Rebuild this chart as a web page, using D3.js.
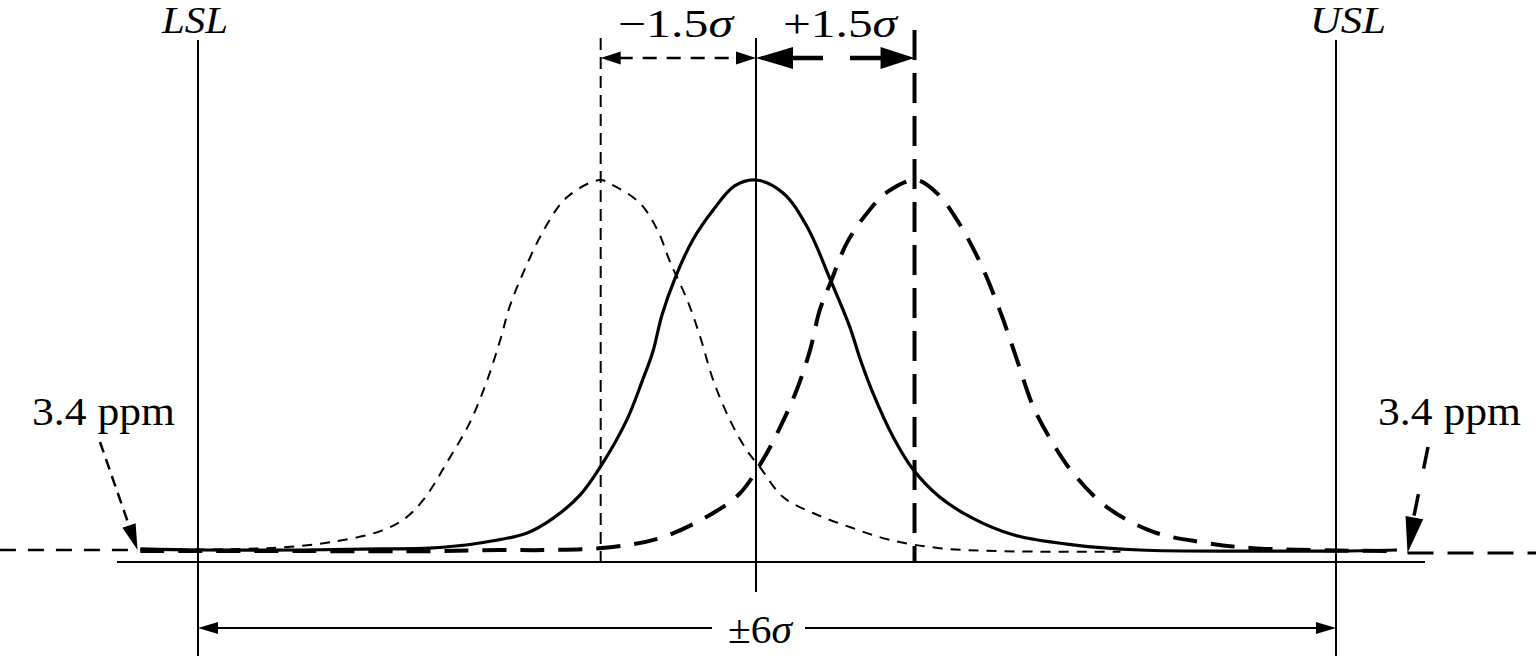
<!DOCTYPE html>
<meta charset="utf-8">
<style>
body { margin: 0; background: #fff; }
svg { display: block; }
text { font-family: "Liberation Serif", "Times New Roman", serif; fill: #000; }
</style>
<svg width="1536" height="656"></svg>
<script src="https://d3js.org/d3.v7.min.js"></script>
<script>

// x in sigma units from the centred process mean, y relative to the peak height
var centredX = [-6.62, -5.98, -4.90, -4.04, -3.51, -2.97, -2.46, -2.18, -1.89, -1.66, -1.39, -1.22, -1.11, -1.01, -0.87, -0.68, -0.46, -0.23, 0,
                0.28, 0.53, 0.77, 0.97, 1.08, 1.21, 1.42, 1.63, 1.90, 2.24, 2.66, 3.28, 3.97, 5.11, 6.0, 6.63];
var centredY = [0.003, 0, 0, 0.003, 0.005, 0.019, 0.046, 0.086, 0.149, 0.230, 0.351, 0.459, 0.535, 0.636, 0.735, 0.838, 0.919, 0.984, 1.0,
                0.965, 0.873, 0.730, 0.603, 0.514, 0.424, 0.305, 0.216, 0.143, 0.086, 0.041, 0.014, 0, -0.003, -0.003, 0];

var shiftedDownX = [-6.62, -5.52, -5.04, -4.55, -4.04, -3.77, -3.56, -3.32, -3.08, -2.89, -2.75, -2.65, -2.50, -2.27, -2.03, -1.68,
                    -1.54, -1.25, -1.06, -0.92, -0.74, -0.60, -0.46, -0.28, -0.10, 0.04, 0.28, 0.59, 0.97, 1.39, 1.90, 2.52, 3.77];
var shiftedDownY = [0, 0.003, 0.008, 0.022, 0.051, 0.086, 0.141, 0.238, 0.343, 0.459, 0.568, 0.657, 0.751, 0.870, 0.954, 1.0,
                    0.986, 0.938, 0.865, 0.776, 0.676, 0.576, 0.459, 0.351, 0.270, 0.224, 0.143, 0.100, 0.062, 0.027, 0.005, -0.003, -0.005];

var shiftedUpX = [-6.62, -4.90, -3.47, -2.75, -2.25, -1.54, -1.00, -0.46, -0.17, 0.07, 0.25, 0.42, 0.56, 0.66, 0.77, 0.94, 1.15, 1.36, 1.65,
                  1.87, 2.08, 2.32, 2.52, 2.70, 2.87, 3.07, 3.28, 3.63, 4.11, 4.59, 5.14, 6.66];
var shiftedUpY = [-0.003, -0.003, -0.003, 0, 0, 0.008, 0.035, 0.100, 0.154, 0.243, 0.332, 0.432, 0.541, 0.649, 0.722, 0.830, 0.911, 0.968, 1.0,
                  0.965, 0.892, 0.776, 0.649, 0.514, 0.386, 0.289, 0.208, 0.116, 0.049, 0.022, 0.005, -0.003];

var leftTailX = [-8.13, -6.65];
var rightTailX = [6.74, 8.07];

var specLimits = [-6, 6];
var specLabels = ["LSL", "USL"];
var shiftMeans = [-1.67, 1.64];
var shiftLabels = ["\u22121.5", "+1.5"];
var ppmLabel = "3.4 ppm";
var spanLabel = "\u00b16";

var svg = d3.select("svg"),
    width = +svg.attr("width"),
    height = +svg.attr("height");

var x = d3.scaleLinear().domain([-6, 0, 6]).range([198, 756, 1336]);
var y = d3.scaleLinear().domain([0, 1]).range([550, 180]);

var baseY = y(0) + 12;

function zip(xs, ys) {
  return xs.map(function(d, i) { return [d, ys[i]]; });
}

var line = d3.line()
    .x(function(d) { return x(d[0]); })
    .y(function(d) { return y(d[1]); })
    .curve(d3.curveCatmullRom.alpha(0.5));

function arrowHead(tip, from, len, half) {
  var dx = tip[0] - from[0], dy = tip[1] - from[1];
  var l = Math.sqrt(dx * dx + dy * dy);
  var ux = dx / l, uy = dy / l;
  var bx = tip[0] - ux * len, by = tip[1] - uy * len;
  svg.append("path")
      .attr("d", "M" + tip[0] + "," + tip[1] +
                 "L" + (bx - uy * half) + "," + (by + ux * half) +
                 "L" + (bx + uy * half) + "," + (by - ux * half) + "Z")
      .attr("fill", "#000");
}

function seg(x1, y1, x2, y2, w, dash) {
  var s = svg.append("line")
      .attr("x1", x1).attr("y1", y1)
      .attr("x2", x2).attr("y2", y2)
      .attr("stroke", "#000")
      .attr("stroke-width", w);
  if (dash) s.attr("stroke-dasharray", dash);
  return s;
}

// baseline
seg(117, baseY, 1425, baseY, 2);

// spec limits
var specWidths = [66, 76];
specLimits.forEach(function(d, i) {
  seg(x(d), 40, x(d), height, 2);
  svg.append("text")
      .attr("x", x(d) + (i ? 12 : -3))
      .attr("y", 33)
      .attr("text-anchor", "middle")
      .attr("font-size", 38)
      .attr("font-style", "italic")
      .attr("textLength", specWidths[i])
      .attr("lengthAdjust", "spacingAndGlyphs")
      .text(specLabels[i]);
});

// centre and shifted means
seg(x(0), 38, x(0), 592, 2);
seg(x(shiftMeans[0]), 38, x(shiftMeans[0]), baseY, 2, "12,7");
seg(x(shiftMeans[1]), 30, x(shiftMeans[1]), baseY, 4, "30,13");

// tail extensions
svg.append("path")
    .attr("d", line(zip(leftTailX, [0, 0])))
    .attr("fill", "none").attr("stroke", "#000")
    .attr("stroke-width", 2.5).attr("stroke-dasharray", "16,12");
svg.append("path")
    .attr("d", line(zip(rightTailX, [-0.008, -0.008])))
    .attr("fill", "none").attr("stroke", "#000")
    .attr("stroke-width", 3).attr("stroke-dasharray", "26,14");

// distributions
svg.append("path")
    .attr("d", line(zip(shiftedDownX, shiftedDownY)))
    .attr("fill", "none").attr("stroke", "#000")
    .attr("stroke-width", 2).attr("stroke-dasharray", "10,8");
svg.append("path")
    .attr("d", line(zip(shiftedUpX, shiftedUpY)))
    .attr("fill", "none").attr("stroke", "#000")
    .attr("stroke-width", 4).attr("stroke-dasharray", "24,14");
svg.append("path")
    .attr("d", line(zip(centredX, centredY)))
    .attr("fill", "none").attr("stroke", "#000")
    .attr("stroke-width", 3.2);

// top shift dimensions
var topY = 58;
seg(x(shiftMeans[0]) + 18, topY, x(0) - 18, topY, 2.4, "14,10");
arrowHead([x(shiftMeans[0]), topY], [x(0), topY], 20, 6.5);
arrowHead([x(0), topY], [x(shiftMeans[0]), topY], 20, 6.5);
seg(x(0) + 30, topY, x(0) + 67, topY, 4.5);
seg(x(0) + 94, topY, x(shiftMeans[1]) - 30, topY, 4.5);
arrowHead([x(0), topY], [x(shiftMeans[1]), topY], 37, 11);
arrowHead([x(shiftMeans[1]), topY], [x(0), topY], 34, 11);

[shiftMeans[0], shiftMeans[1]].forEach(function(d, i) {
  var t = svg.append("text")
      .attr("x", i ? 783 : 618)
      .attr("y", 37)
      .attr("font-size", 40)
      .attr("textLength", i ? 114 : 115)
      .attr("lengthAdjust", "spacingAndGlyphs");
  t.append("tspan").text(shiftLabels[i]);
  t.append("tspan").attr("font-style", "italic").text("\u03c3");
});

// bottom span dimension
var botY = 628;
seg(x(-6) + 15, botY, 712, botY, 2);
seg(805, botY, x(6) - 15, botY, 2);
arrowHead([x(-6), botY], [x(6), botY], 20, 6);
arrowHead([x(6), botY], [x(-6), botY], 20, 6);
var st = svg.append("text")
    .attr("x", 728)
    .attr("y", 643)
    .attr("font-size", 40)
    .attr("textLength", 64)
    .attr("lengthAdjust", "spacingAndGlyphs");
st.append("tspan").text(spanLabel);
st.append("tspan").attr("font-style", "italic").text("\u03c3");

// 3.4 ppm callouts
[32, 1378].forEach(function(px) {
  svg.append("text")
      .attr("x", px).attr("y", 425)
      .attr("font-size", 39)
      .attr("textLength", 143)
      .attr("lengthAdjust", "spacingAndGlyphs")
      .text(ppmLabel);
});

var leftTip = [x(leftTailX[1]), y(0)];
var leftFrom = [100, 442];
seg(leftFrom[0], leftFrom[1], leftTip[0] - 8, leftTip[1] - 23, 2.5, "11,7");
arrowHead(leftTip, leftFrom, 26, 7);

var rightTip = [x(rightTailX[0]), y(-0.008)];
var rightFrom = [1428, 447];
seg(rightFrom[0], rightFrom[1], rightTip[0] + 5, rightTip[1] - 30, 3.5, "22,26");
arrowHead(rightTip, rightFrom, 36, 9);

</script>
